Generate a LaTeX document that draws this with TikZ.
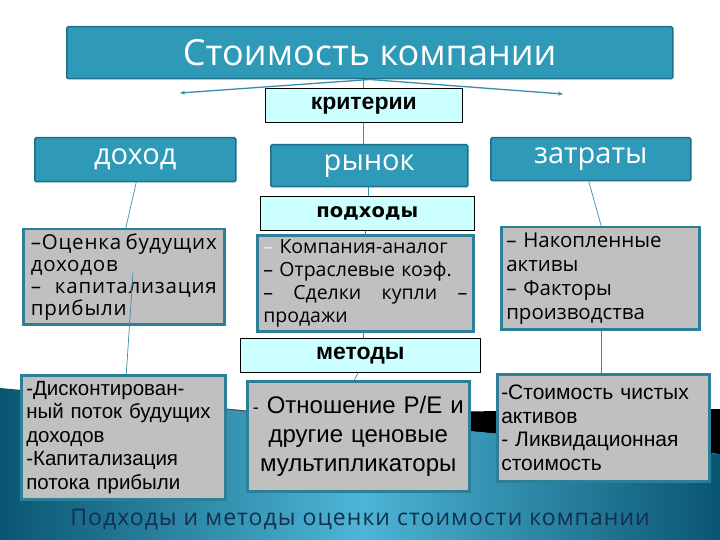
\documentclass[tikz,border=0pt]{standalone}
\usepackage{fontspec}
\setmainfont{Liberation Sans}
\newfontfamily\cand{Open Sans}
\newfontfamily\candw[LetterSpace=4]{Open Sans}
\newfontfamily\candsp[LetterSpace=4.5]{Open Sans}
\newfontfamily\arial{Liberation Sans}
\newfontfamily\verd{DejaVu Sans}
\usetikzlibrary{arrows.meta}
\definecolor{teal1}{HTML}{2E9AB8}
\definecolor{tealb}{HTML}{1E6F87}
\definecolor{grayf}{HTML}{C0C0C0}
\definecolor{grayb}{HTML}{2B7F96}
\definecolor{cyanf}{HTML}{CCFFFF}
\definecolor{bgdark}{HTML}{0A5672}
\definecolor{bglight}{HTML}{4DB5D6}
\definecolor{capc}{HTML}{12304D}
\definecolor{linec}{HTML}{3A8DB0}
\newcommand{\fullline}[1]{\makebox[\linewidth][l]{#1}}
\tikzset{
  tealbox/.style={fill=teal1, draw=tealb, line width=1.5pt, rounded corners=1.5pt,
    text=white, inner sep=0pt, anchor=north west, font=\cand\fontsize{29}{32}\selectfont},
  cyanbox/.style={fill=cyanf, draw=black, line width=0.6pt, inner sep=0pt, anchor=north west},
  graybox/.style={fill=grayf, draw=grayb, line width=2.5pt, inner sep=0pt, anchor=north west,
    align=left},
  conn/.style={draw=linec, line width=0.7pt},
  arr/.style={draw=linec, line width=1.3pt, -{Stealth[length=5pt,width=4pt]}}
}
\begin{document}
\begin{tikzpicture}[x=1pt,y=-1pt]
\useasboundingbox (0,0) rectangle (720,540);
\fill[white] (0,0) rectangle (720,540);
% background wave
\fill[black] (300,413) -- (720,409) -- (720,454) -- (300,416) -- cycle;
\shade[left color=bgdark, right color=bgdark, middle color=bglight]
  (0,388) -- (720,454) -- (720,540) -- (0,540) -- cycle;
\draw[line width=1pt, black!70] (225,409) -- (300,416);
% title
\node[tealbox, minimum width=606pt, minimum height=52pt,
  font=\cand\fontsize{36}{40}\selectfont] (title) at (66,26) {Стоимость компании};
\coordinate (al) at (180,93);
\coordinate (ar) at (563,94);
\draw[arr] (title.south) -- (al);
\draw[arr] (title.south) -- (ar);
% criteria row
\node[cyanbox, minimum width=197pt, minimum height=34pt,
  font=\arial\bfseries\fontsize{23}{26}\selectfont] (krit) at (265,88) {критерии};
\node[tealbox, minimum width=201pt, minimum height=44pt] (dohod) at (34,137)
  {\raisebox{2pt}{доход}};
\node[tealbox, minimum width=197pt, minimum height=42pt] (rynok) at (270,144) {рынок};
\node[tealbox, minimum width=200pt, minimum height=43pt] (zatr) at (490,137)
  {\raisebox{2pt}{затраты}};
% approaches
\node[cyanbox, minimum width=214pt, minimum height=34pt,
  font=\verd\bfseries\fontsize{19.5}{22}\selectfont] (podh) at (260,196) {подходы};
\node[graybox, minimum width=201pt, minimum height=95pt, text width=186pt,
  inner xsep=7pt, font=\candw\fontsize{20.5}{22}\selectfont] (b1) at (22,228)
  {\fullline{–Оценка\hfill будущих}\\
   доходов\\
   \fullline{–\hfill капитализация}\\
   прибыли};
\node[graybox, minimum width=216pt, minimum height=96pt, text width=204pt,
  inner xsep=6pt, font=\cand\fontsize{19.5}{23}\selectfont] (b2) at (256,234)
  {{\color{white!85!gray}–} Компания-аналог\\
   – Отраслевые коэф.\\
   \fullline{–\hfill Сделки\hfill купли\hfill –}\\
   продажи};
\node[graybox, minimum width=198pt, minimum height=102pt, text width=188pt,
  inner xsep=5pt, font=\cand\fontsize{20.5}{24}\selectfont] (b3) at (500,226)
  {– Накопленные\\
   активы\\
   – Факторы\\
   производства};
% methods
\node[cyanbox, minimum width=240pt, minimum height=34pt,
  font=\arial\bfseries\fontsize{23}{26}\selectfont] (met) at (240,338) {методы};
\node[graybox, minimum width=204pt, minimum height=124pt, text width=194pt,
  inner xsep=5pt, font=\arial\fontsize{20.5}{23.5}\selectfont] (b4) at (20,374)
  {-Дисконтирован-\\
   ный поток будущих\\
   доходов\\
   -Капитализация\\
   потока прибыли};
\node[graybox, minimum width=222pt, minimum height=110pt, text width=216pt,
  inner xsep=3pt, align=center, font=\arial\fontsize{24}{29}\selectfont] (b5) at (246,380)
  {{\fontsize{18}{29}\selectfont -} Отношение P/E и\\
   другие ценовые\\
   мультипликаторы};
\node[graybox, minimum width=212pt, minimum height=107pt, text width=204pt,
  inner xsep=4pt, font=\arial\fontsize{21}{23.5}\selectfont] (b6) at (496,373)
  {-Стоимость чистых\\
   активов\\
   - Ликвидационная\\
   стоимость};
% connectors
\draw[conn] (krit.north) -- (krit.north |- title.south);
\draw[conn] (krit.south) -- (krit.south |- rynok.north);
\draw[conn] ([xshift=-1pt]rynok.south) -- ([xshift=-1pt]rynok.south |- podh.north);
\draw[conn] ([xshift=-2pt]podh.south) -- ([xshift=-2pt]podh.south |- b2.north);
\draw[conn] ([xshift=-2pt]b2.south) -- ([xshift=-2pt]b2.south |- met.north);
\draw[conn] ([xshift=-2pt]met.south) -- ([xshift=-4pt]b5.north);
\draw[conn] ([xshift=1pt]dohod.south) -- ([xshift=2pt]b1.north);
\coordinate (c1) at (133,273);
\draw[conn] (c1) -- ([xshift=3pt]b4.north);
\draw[conn] ([xshift=-2pt]zatr.south) -- ([xshift=1pt]b3.north);
\draw[conn] ([xshift=1pt]b3.south) -- ([xshift=-2pt]b6.north);
% caption
\node[text=capc, font=\candsp\fontsize{23}{26}\selectfont] (cap) at (360,519)
  {Подходы и методы оценки стоимости компании};
\end{tikzpicture}
\end{document}
